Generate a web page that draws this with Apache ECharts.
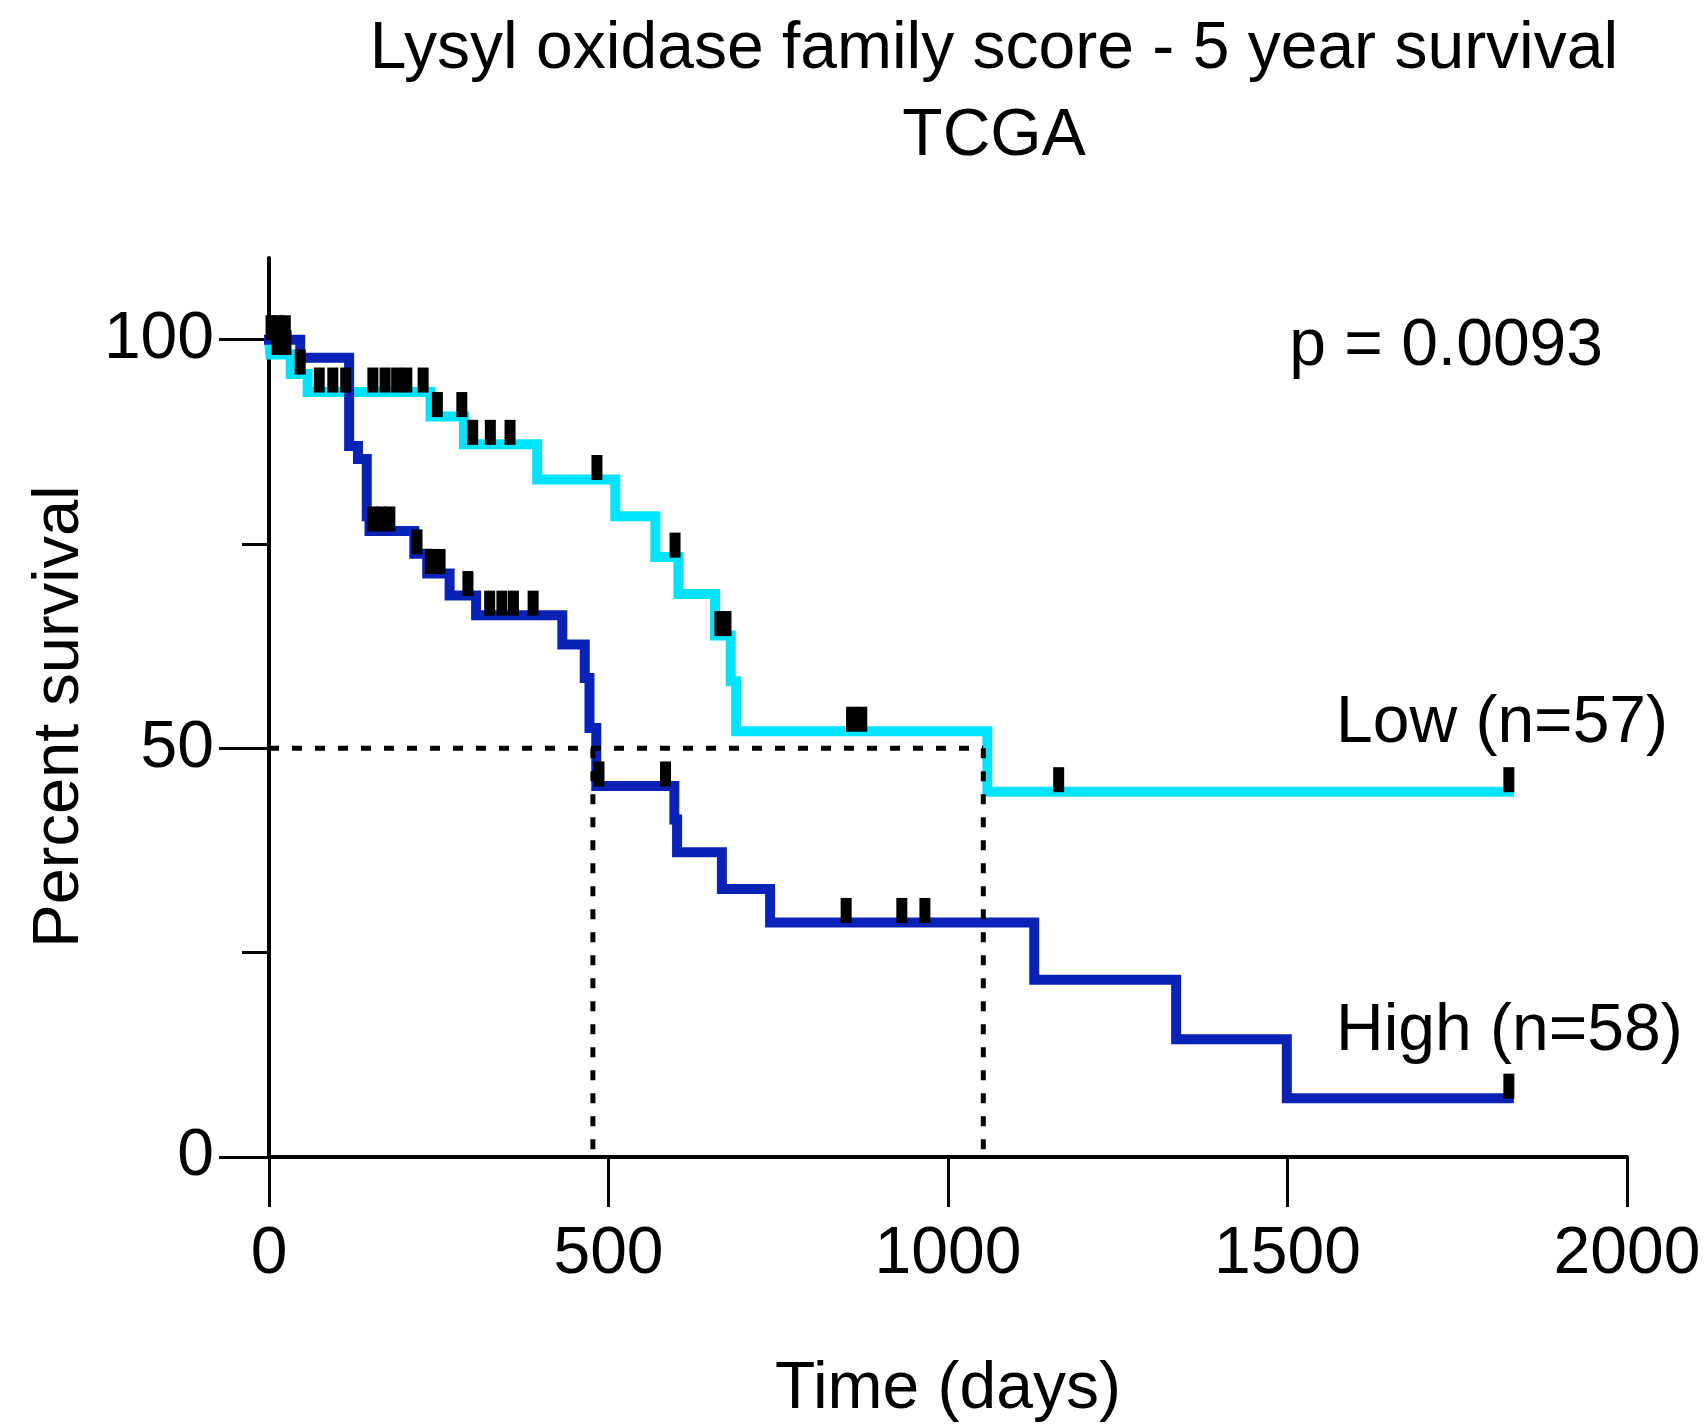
<!DOCTYPE html>
<html>
<head>
<meta charset="utf-8">
<script src="https://cdn.jsdelivr.net/npm/echarts@6/dist/echarts.min.js"></script>
<style>
  html, body { margin: 0; padding: 0; background: #fff; }
  #chart { width: 1706px; height: 1428px; }
</style>
</head>
<body>
<div id="chart"></div>
<script>
// ---- Data (days, percent survival) ----
const lowTimes    = [0, 2, 32, 57, 238, 287, 395, 510, 569, 603, 657, 680, 688, 1058, 1826];
const lowSurvival = [100, 98.2, 95.8, 93.6, 90.6, 87.2, 82.9, 78.4, 73.4, 68.9, 63.8, 58.2, 52.1, 44.7, 44.7];

const highTimes    = [0, 46, 118, 131, 144, 148, 214, 233, 266, 305, 432, 465, 472, 482, 597, 601, 667, 738, 1127, 1336, 1499, 1826];
const highSurvival = [100, 97.8, 87.0, 85.4, 78.4, 76.6, 73.8, 71.4, 68.7, 66.3, 62.7, 58.6, 52.5, 45.4, 41.3, 37.3, 32.8, 28.7, 21.7, 14.4, 7.2, 7.2];

const lowCensorTimes    = [12, 25, 46, 74, 94, 113, 153, 171, 188, 203, 227, 248, 284, 300, 326, 355, 483, 598, 664, 673, 858, 873, 1163, 1826];
const lowCensorSurvival = [98.2, 98.2, 95.8, 93.6, 93.6, 93.6, 93.6, 93.6, 93.6, 93.6, 93.6, 90.6, 90.6, 87.2, 87.2, 87.2, 82.9, 73.4, 63.8, 63.8, 52.1, 52.1, 44.7, 44.7];

const highCensorTimes    = [3, 13, 24, 153, 165, 178, 218, 238, 252, 293, 325, 343, 360, 389, 486, 584, 850, 932, 966, 1826];
const highCensorSurvival = [100, 100, 100, 76.6, 76.6, 76.6, 73.8, 71.4, 71.4, 68.7, 66.3, 66.3, 66.3, 66.3, 45.4, 45.4, 28.7, 28.7, 28.7, 7.2];

const medianTimes = [477, 1052];   // High, Low median survival (days)
const medianLevel = 50;

const xTickValues = [0, 500, 1000, 1500, 2000];
const yMajorTicks = [0, 50, 100];
const yMinorTicks = [25, 75];

const groupLabels = ['Low (n=57)', 'High (n=58)'];
const pValueText = 'p = 0.0093';
const titleLines = ['Lysyl oxidase family score - 5 year survival', 'TCGA'];

// ---- Build ----
const zip = (a, b) => a.map((v, i) => [v, b[i]]);
const FONT = "'Liberation Sans', Arial, Helvetica, sans-serif";
const LOW_COLOR = '#00E3FF';
const HIGH_COLOR = '#0B22B6';

const chart = echarts.init(document.getElementById('chart'), null, { renderer: 'canvas' });

const dotted = { color: '#000', width: 5, type: [10, 13] };

const option = {
  animation: false,
  backgroundColor: '#fff',
  title: {
    text: titleLines.join('\n'),
    left: 994,
    top: 6,
    padding: 0,
    textAlign: 'center',
    textStyle: { fontFamily: FONT, fontSize: 66, fontWeight: 'normal', color: '#000', lineHeight: 87 }
  },
  grid: { left: 269, right: 79, top: 258, bottom: 267, containLabel: false },
  xAxis: {
    type: 'value', min: 0, max: 2000, interval: 500,
    name: 'Time (days)', nameLocation: 'middle', nameGap: 200,
    nameTextStyle: { fontFamily: FONT, fontSize: 66, color: '#000' },
    axisLine: { show: true, onZero: false, lineStyle: { color: '#000', width: 4 } },
    axisTick: { show: true, inside: false, length: 50, lineStyle: { color: '#000', width: 3 } },
    axisLabel: { fontFamily: FONT, fontSize: 66, color: '#000', margin: 65,
      formatter: v => (xTickValues.indexOf(v) >= 0 ? String(v) : '') },
    splitLine: { show: false }
  },
  yAxis: [
    {
      type: 'value', min: 0, max: 110, position: 'left',
      name: 'Percent survival', nameLocation: 'middle', nameGap: 172,
      nameTextStyle: { fontFamily: FONT, fontSize: 65, color: '#000', padding: [0, 18, 0, 0] },
      axisLine: { show: true, onZero: false, lineStyle: { color: '#000', width: 4 } },
      axisTick: { show: true, inside: false, length: 50, customValues: yMajorTicks, lineStyle: { color: '#000', width: 3 } },
      axisLabel: { fontFamily: FONT, fontSize: 66, color: '#000', margin: 55, customValues: yMajorTicks,
        formatter: v => (yMajorTicks.indexOf(v) >= 0 ? String(v) : '') },
      splitLine: { show: false }
    },
    {
      type: 'value', min: 0, max: 110, position: 'left',
      axisLine: { show: false },
      axisTick: { show: true, inside: false, length: 27, customValues: yMinorTicks, lineStyle: { color: '#000', width: 3 } },
      axisLabel: { show: false },
      splitLine: { show: false }
    }
  ],
  graphic: [
    { type: 'text', x: 1603, y: 347, z: 100,
      style: { text: pValueText, fontFamily: FONT, fontSize: 66, fill: '#000', textAlign: 'right', textVerticalAlign: 'middle' } },
    { type: 'text', x: 1336, y: 724, z: 100,
      style: { text: groupLabels[0], fontFamily: FONT, fontSize: 66, fill: '#000', textAlign: 'left', textVerticalAlign: 'middle' } },
    { type: 'text', x: 1336, y: 1032, z: 100,
      style: { text: groupLabels[1], fontFamily: FONT, fontSize: 66, fill: '#000', textAlign: 'left', textVerticalAlign: 'middle' } }
  ],
  series: [
    {
      name: 'Low', type: 'line', step: 'end', data: zip(lowTimes, lowSurvival),
      showSymbol: false, symbol: 'none', z: 2,
      lineStyle: { color: LOW_COLOR, width: 10, cap: 'square', join: 'miter' }
    },
    {
      name: 'High', type: 'line', step: 'end', data: zip(highTimes, highSurvival),
      showSymbol: false, symbol: 'none', z: 3,
      lineStyle: { color: HIGH_COLOR, width: 10, cap: 'square', join: 'miter' }
    },
    {
      type: 'line', data: [[0, medianLevel], [Math.max(...medianTimes), medianLevel]],
      symbol: 'none', z: 4, lineStyle: dotted
    },
    {
      type: 'line', data: [[medianTimes[0], medianLevel], [medianTimes[0], 0]],
      symbol: 'none', z: 4, lineStyle: dotted
    },
    {
      type: 'line', data: [[medianTimes[1], medianLevel], [medianTimes[1], 0]],
      symbol: 'none', z: 4, lineStyle: dotted
    },
    {
      type: 'scatter', data: zip(lowCensorTimes, lowCensorSurvival),
      symbol: 'rect', symbolSize: [11, 25], symbolOffset: [0, -12], z: 6,
      itemStyle: { color: '#000', opacity: 1 }
    },
    {
      type: 'scatter', data: zip(highCensorTimes, highCensorSurvival),
      symbol: 'rect', symbolSize: [11, 25], symbolOffset: [0, -12], z: 6,
      itemStyle: { color: '#000', opacity: 1 }
    }
  ]
};

chart.setOption(option);
</script>
</body>
</html>
